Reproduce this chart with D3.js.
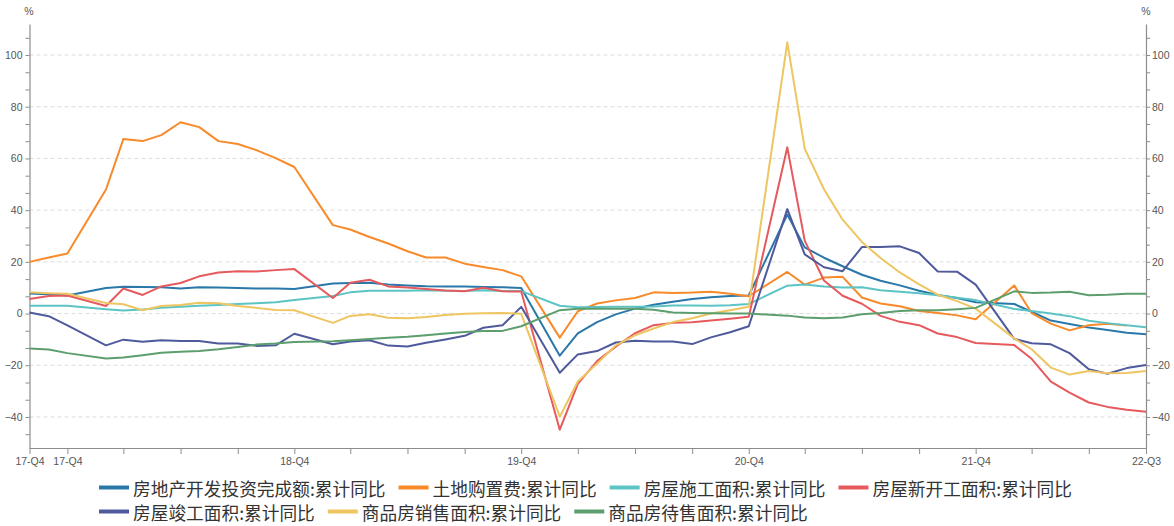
<!DOCTYPE html>
<html>
<head>
<meta charset="utf-8">
<script src="https://cdn.jsdelivr.net/npm/d3@7"></script>
<style>
  html, body { margin: 0; padding: 0; background: #fff; }
  svg { display: block; }
</style>
</head>
<body>
<svg id="chart" width="1174" height="526"></svg>
<script>
// Monthly observations (January is merged into the Jan–Feb release, so it is absent)
const months = [
  "2017-10","2017-11","2017-12",
  "2018-02","2018-03","2018-04","2018-05","2018-06","2018-07","2018-08","2018-09","2018-10","2018-11","2018-12",
  "2019-02","2019-03","2019-04","2019-05","2019-06","2019-07","2019-08","2019-09","2019-10","2019-11","2019-12",
  "2020-02","2020-03","2020-04","2020-05","2020-06","2020-07","2020-08","2020-09","2020-10","2020-11","2020-12",
  "2021-02","2021-03","2021-04","2021-05","2021-06","2021-07","2021-08","2021-09","2021-10","2021-11","2021-12",
  "2022-02","2022-03","2022-04","2022-05","2022-06","2022-07","2022-08","2022-09"
];

const seriesNames = [
  "房地产开发投资完成额:累计同比",
  "土地购置费:累计同比",
  "房屋施工面积:累计同比",
  "房屋新开工面积:累计同比",
  "房屋竣工面积:累计同比",
  "商品房销售面积:累计同比",
  "商品房待售面积:累计同比"
];

const investment = [
  7.8, 7.5, 7.0,
  9.9, 10.4, 10.3, 10.2, 9.7, 10.2, 10.1, 9.9, 9.7, 9.7, 9.5,
  11.6, 11.8, 11.9, 11.2, 10.9, 10.6, 10.5, 10.5, 10.3, 10.2, 9.9,
  -16.3, -7.7, -3.3, -0.3, 1.9, 3.4, 4.6, 5.6, 6.3, 6.8, 7.0,
  38.3, 25.6, 21.6, 18.3, 15.0, 12.7, 10.9, 8.8, 7.2, 6.0, 4.4,
  3.7, 0.7, -2.7, -4.0, -5.4, -6.4, -7.4, -8.0
];

const landPurchase = [
  20.0, 21.7, 23.2,
  48.0, 67.5, 66.7, 69.0, 74.0, 72.1, 66.7, 65.6, 63.2, 60.1, 56.7,
  34.2, 32.5, 29.6, 27.1, 24.1, 21.7, 21.7, 19.3, 18.0, 16.8, 14.4,
  -9.3, 0.9, 3.9, 5.1, 6.0, 8.2, 8.0, 8.1, 8.4, 7.7, 6.7,
  16.1, 11.2, 13.9, 14.2, 6.2, 3.9, 2.8, 1.0, 0.2, -0.7, -2.2,
  10.9, 0.2, -3.9, -6.5, -4.5, -3.9, -4.6, null
];

const underConstruction = [
  3.0, 3.0, 3.0,
  1.7, 1.2, 1.6, 2.2, 2.6, 3.0, 3.3, 3.7, 4.0, 4.4, 5.2,
  6.8, 8.2, 8.8, 8.8, 8.8, 9.0, 8.8, 8.7, 9.0, 8.7, 8.7,
  3.0, 2.4, 2.5, 2.6, 2.6, 2.7, 3.1, 3.1, 3.0, 3.2, 3.7,
  10.8, 11.2, 10.5, 10.1, 10.2, 9.0, 8.4, 7.9, 7.1, 6.1, 5.2,
  1.8, 1.0, 0.0, -1.0, -2.8, -3.7, -4.5, -5.3
];

const newStarts = [
  5.6, 6.8, 7.0,
  2.9, 9.7, 7.2, 10.5, 11.8, 14.4, 15.9, 16.4, 16.3, 16.8, 17.2,
  6.0, 11.9, 13.1, 10.5, 10.1, 9.5, 8.9, 8.6, 10.0, 8.6, 8.5,
  -44.9, -27.2, -18.4, -12.8, -7.6, -4.5, -3.6, -3.4, -2.7, -2.0, -1.2,
  64.3, 28.2, 12.8, 6.9, 3.8, -0.9, -3.2, -4.5, -7.7, -9.1, -11.4,
  -12.2, -17.5, -26.3, -30.6, -34.4, -36.1, -37.2, -38.0
];

const completions = [
  0.4, -1.0, -4.6,
  -12.3, -10.1, -10.9, -10.3, -10.6, -10.6, -11.6, -11.6, -12.5, -12.3, -7.8,
  -11.9, -10.8, -10.3, -12.4, -12.7, -11.3, -10.0, -8.6, -5.5, -4.5, 2.6,
  -22.9, -15.8, -14.5, -11.2, -10.5, -10.8, -10.8, -11.8, -9.2, -7.2, -4.9,
  40.4, 22.9, 17.9, 16.4, 25.7, 25.7, 26.0, 23.4, 16.3, 16.2, 11.2,
  -9.8, -11.5, -11.9, -15.3, -21.5, -23.3, -21.1, -19.9
];

const salesArea = [
  8.2, 7.9, 7.7,
  4.1, 3.6, 1.3, 2.9, 3.3, 4.2, 4.0, 2.9, 2.2, 1.4, 1.3,
  -3.6, -0.9, -0.3, -1.6, -1.8, -1.3, -0.6, -0.1, 0.1, 0.2, -0.1,
  -39.9, -26.3, -19.3, -12.3, -8.4, -5.8, -3.3, -1.8, 0.0, 1.3, 2.6,
  104.9, 63.8, 48.1, 36.3, 27.7, 21.5, 15.9, 11.3, 7.3, 4.8, 1.9,
  -9.6, -13.8, -20.9, -23.6, -22.2, -23.1, -23.0, -22.2
];

const unsoldArea = [
  -13.5, -13.9, -15.3,
  -17.4, -17.0, -16.1, -15.2, -14.8, -14.5, -13.8, -12.9, -12.0, -11.6, -11.0,
  -10.7, -10.3, -9.8, -9.4, -9.0, -8.4, -7.7, -7.1, -6.7, -6.7, -4.9,
  1.3, 1.9, 1.9, 1.9, 1.9, 1.5, 0.4, 0.2, 0.1, 0.0, 0.0,
  -0.8, -1.5, -1.8, -1.5, -0.3, 0.2, 1.0, 1.3, 1.3, 1.7, 2.2,
  8.6, 8.0, 8.1, 8.4, 7.1, 7.3, 7.7, 7.7
];

const seriesColors = ["#2a78aa", "#f98a2a", "#5cc4c4", "#e65a5e", "#4e5a9c", "#eec560", "#5c9e6e"];

// Labelled positions on the time axis
const xLabelMonths = ["2017-10", "2017-12", "2018-12", "2019-12", "2020-12", "2021-12", "2022-09"];
const xLabels = ["17-Q4", "17-Q4", "18-Q4", "19-Q4", "20-Q4", "21-Q4", "22-Q3"];

const yMajorTicks = [-40, -20, 0, 20, 40, 60, 80, 100];

// ---------------------------------------------------------------
const parseMonth = s => { const [yy, mm] = s.split("-").map(Number); return new Date(Date.UTC(yy, mm - 1, 1)); };
const dates = months.map(parseMonth);

const svg = d3.select("#chart");
const plotLeft = 29.5, plotRight = 1146, plotTop = 24, plotBottom = 448;

const x = d3.scaleUtc()
  .domain([parseMonth("2017-10"), parseMonth("2022-09")])
  .range([plotLeft, plotRight]);

const y = d3.scaleLinear().domain([-52, 112]).range([plotBottom, plotTop]);

const labelFont = "'Liberation Sans', Arial, sans-serif";

// Horizontal dashed grid
svg.append("g")
  .selectAll("line")
  .data(yMajorTicks)
  .join("line")
  .attr("x1", plotLeft).attr("x2", plotRight)
  .attr("y1", d => y(d)).attr("y2", d => y(d))
  .attr("stroke", "#dcdcdc")
  .attr("stroke-width", 1)
  .attr("stroke-dasharray", "4,3");

// y ticks: a minor tick every third of a labelled step
const yAllTicks = d3.range(-7, 17).map(i => i * 20 / 3);
const isMajor = v => Math.abs(v / 20 - Math.round(v / 20)) < 1e-6;
const fmtY = v => isMajor(v) ? d3.format("d")(Math.round(v)) : "";

function styleAxis(g) {
  g.select(".domain").attr("stroke", "#8c8c8c").attr("stroke-width", 1.2);
  g.selectAll(".tick line").attr("stroke", "#8c8c8c");
  g.selectAll(".tick text").attr("fill", "#555").attr("font-size", "10.5px").attr("font-family", labelFont);
}

svg.append("g")
  .attr("transform", `translate(${plotLeft},0)`)
  .call(d3.axisLeft(y).tickValues(yAllTicks).tickFormat(fmtY).tickSize(4).tickSizeOuter(0).tickPadding(3))
  .call(styleAxis);

svg.append("g")
  .attr("transform", `translate(${plotRight},0)`)
  .call(d3.axisRight(y).tickValues(yAllTicks).tickFormat(fmtY).tickSize(4).tickSizeOuter(0).tickPadding(2))
  .call(styleAxis);

// x ticks: start of the range plus every quarter end
const quarterTicks = [parseMonth("2017-10")].concat(
  d3.utcMonth.range(parseMonth("2017-12"), parseMonth("2022-10"))
    .filter(d => [2, 5, 8, 11].includes(d.getUTCMonth()))
);
const labelByTime = new Map(xLabelMonths.map((m, i) => [parseMonth(m).getTime(), xLabels[i]]));

svg.append("g")
  .attr("transform", `translate(0,${plotBottom})`)
  .call(d3.axisBottom(x).tickValues(quarterTicks)
    .tickFormat(d => labelByTime.get(d.getTime()) || "")
    .tickSize(6).tickSizeOuter(0).tickPadding(4))
  .call(styleAxis);

// Unit labels
svg.append("text").attr("x", 29).attr("y", 15).attr("text-anchor", "middle")
  .attr("font-size", "10.5px").attr("font-family", labelFont).attr("fill", "#555").text("%");
svg.append("text").attr("x", 1146).attr("y", 15).attr("text-anchor", "middle")
  .attr("font-size", "10.5px").attr("font-family", labelFont).attr("fill", "#555").text("%");

// Lines
const allSeries = [investment, landPurchase, underConstruction, newStarts, completions, salesArea, unsoldArea];
const line = d3.line()
  .defined(d => d.v !== null)
  .x(d => x(d.date))
  .y(d => y(d.v));

const plot = svg.append("g");
allSeries.forEach((vals, i) => {
  const pts = vals.map((v, j) => ({ date: dates[j], v }));
  plot.append("path")
    .datum(pts)
    .attr("fill", "none")
    .attr("stroke", seriesColors[i])
    .attr("stroke-width", 2)
    .attr("stroke-linejoin", "round")
    .attr("d", line);
});

// Legend: flows left to right, wrapping onto a second row
const legend = svg.append("g");
const legendFont = "'Noto Sans CJK SC', 'Noto Sans', sans-serif";
const rowY = [487.5, 511.5];
const legendLeft = 99, legendMaxRight = 1095;
let lx = legendLeft, row = 0;
seriesNames.forEach((name, i) => {
  const item = legend.append("g");
  const t = item.append("text")
    .attr("x", 34).attr("y", 0)
    .attr("dominant-baseline", "central")
    .attr("font-size", "17.7px")
    .attr("font-family", legendFont)
    .attr("fill", "#333")
    .text(name);
  const w = 34 + t.node().getComputedTextLength();
  if (lx + w > legendMaxRight && lx > legendLeft) { row += 1; lx = legendLeft; }
  item.append("line")
    .attr("x1", 0).attr("x2", 30).attr("y1", 0).attr("y2", 0)
    .attr("stroke", seriesColors[i]).attr("stroke-width", 4);
  item.attr("transform", `translate(${lx},${rowY[row]})`);
  lx += w + 13;
});
</script>
</body>
</html>
